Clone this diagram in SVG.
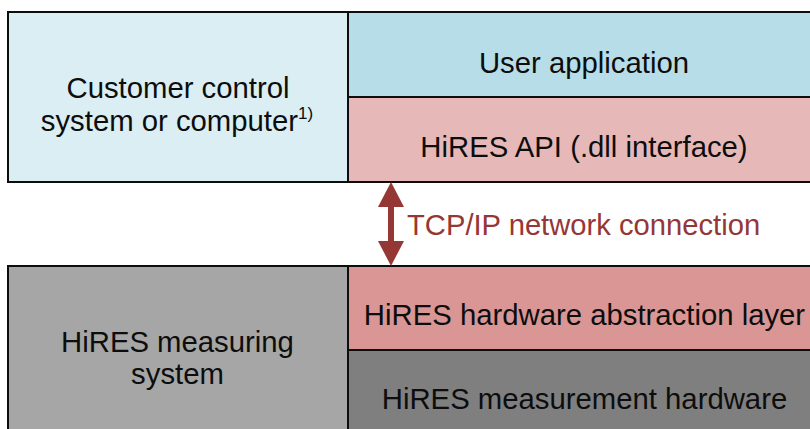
<svg xmlns="http://www.w3.org/2000/svg" width="810" height="429" viewBox="0 0 810 429">
  <defs>
    <style>
      .box { stroke: #0d0d0d; stroke-width: 2; }
      .lbl { font-family: "Liberation Sans", Arial, sans-serif; font-size: 29.3px; fill: #0d0d0d; text-anchor: middle; }
      .net { font-family: "Liberation Sans", Arial, sans-serif; font-size: 29.2px; fill: #953735; }
      .sup { font-size: 17px; }
    </style>
    <marker id="head" viewBox="0 0 25 26" refX="0" refY="13" markerWidth="25" markerHeight="26" markerUnits="userSpaceOnUse" orient="auto-start-reverse">
      <path d="M0,0 L25,13 L0,26 Z" fill="#953735"/>
    </marker>
  </defs>
  <rect width="810" height="429" fill="#ffffff"/>

  <g id="customer-system">
    <rect class="box" x="8" y="12" width="340" height="170" fill="#DAEEF3"/>
    <text class="lbl" x="178" y="98">Customer control</text>
    <text class="lbl" x="177" y="131">system or computer<tspan class="sup" dy="-12">1)</tspan></text>
  </g>

  <g id="user-application">
    <rect class="box" x="348" y="12" width="480" height="85" fill="#B7DDE8"/>
    <text class="lbl" x="584" y="73">User application</text>
  </g>

  <g id="hires-api">
    <rect class="box" x="348" y="97" width="480" height="85" fill="#E6B9B8"/>
    <text class="lbl" x="584" y="157">HiRES API (.dll interface)</text>
  </g>

  <g id="measuring-system">
    <rect class="box" x="8" y="266" width="340" height="180" fill="#A6A6A6"/>
    <text class="lbl" x="177.5" y="352">HiRES measuring</text>
    <text class="lbl" x="177.5" y="384">system</text>
  </g>

  <g id="hardware-abstraction-layer">
    <rect class="box" x="348" y="266" width="480" height="84" fill="#D99694"/>
    <text class="lbl" x="584.5" y="325">HiRES hardware abstraction layer</text>
  </g>

  <g id="measurement-hardware">
    <rect class="box" x="348" y="350" width="480" height="96" fill="#7F7F7F"/>
    <text class="lbl" x="584.5" y="409">HiRES measurement hardware</text>
  </g>

  <g id="connectors">
    <line x1="391" y1="207" x2="391" y2="241" stroke="#953735" stroke-width="6" marker-start="url(#head)" marker-end="url(#head)"/>
    <text class="net" x="407" y="235">TCP/IP network connection</text>
  </g>
</svg>
